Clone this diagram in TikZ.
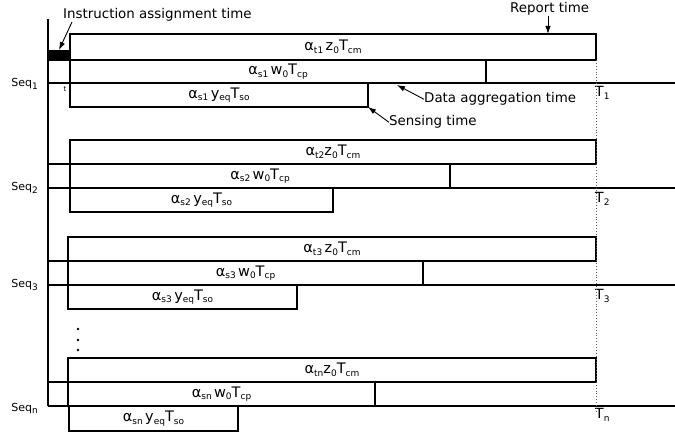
\documentclass[tikz,border=0pt]{standalone}
\usepackage{fontspec}
\setmainfont{DejaVu Sans}
\usetikzlibrary{arrows.meta}

% lowered small text for subscripts
\newcommand{\sbs}[1]{\raisebox{-2.6pt}{\fontsize{9}{9}\selectfont #1}}

\begin{document}
\begin{tikzpicture}[x=1pt,y=-1pt,
  bar/.style={draw, line width=2.2pt, inner sep=0pt, outer sep=0pt, anchor=north west,
              font=\fontsize{14.5}{15}\selectfont},
  rule/.style={line width=2.2pt},
  note/.style={inner sep=0pt, font=\fontsize{13.4}{14}\selectfont},
  seqlbl/.style={inner sep=0pt, anchor=base east, font=\fontsize{11}{12}\selectfont},
  tlbl/.style={inner sep=0pt, anchor=north west, font=\fontsize{14}{15}\selectfont},
  pointer/.style={line width=0.9pt, -{Latex[length=8pt,width=5.5pt]}},
  deadline/.style={line width=0.9pt, dotted, black!65}
]
\useasboundingbox (0,0) rectangle (675,438);

% main vertical axis
\coordinate (atop) at (48,19);
\coordinate (abot) at (48,406);
\draw[line width=2.6pt] (atop) -- (abot);

% ---------------- sequence 1 ----------------
\node[bar, minimum width=526pt, minimum height=26pt] (r1) at (70,34)
  {α\sbs{t1}\,z\sbs{0}T\sbs{cm}};
\node[bar, minimum width=416pt, minimum height=23pt] (c1) at (70,60)
  {α\sbs{s1}\,w\sbs{0}T\sbs{cp}};
\node[bar, minimum width=298pt, minimum height=24pt] (s1) at (70,83)
  {α\sbs{s1}\,y\sbs{eq}T\sbs{so}};
\coordinate (l1) at (48,60);
\coordinate (a1) at (48,83);
\coordinate (e1) at (675,83);
\draw[rule] (l1) -- (r1.south west);
\draw[rule] (a1) -- (e1);
\node[fill, inner sep=0pt, outer sep=0pt, minimum width=22pt, minimum height=10pt, anchor=north west] (ib) at (48,50) {};
\node[inner sep=0pt, font=\fontsize{7}{7}\selectfont] (tk) at (65,89) {t};
\node[seqlbl] (q1) at (38,87) {Seq\sbs{1}};
\node[tlbl] (t1) at (595,86) {T\sbs{1}};

% ---------------- sequence 2 ----------------
\node[bar, minimum width=526pt, minimum height=24pt] (r2) at (70,140)
  {α\sbs{t2}z\sbs{0}T\sbs{cm}};
\node[bar, minimum width=380pt, minimum height=24pt] (c2) at (70,164)
  {α\sbs{s2}\,w\sbs{0}T\sbs{cp}};
\node[bar, minimum width=263pt, minimum height=24pt] (s2) at (70,188)
  {α\sbs{s2}\,y\sbs{eq}T\sbs{so}};
\coordinate (l2) at (48,164);
\coordinate (a2) at (48,188);
\coordinate (e2) at (675,188);
\draw[rule] (l2) -- (r2.south west);
\draw[rule] (a2) -- (e2);
\node[seqlbl] (q2) at (38,191) {Seq\sbs{2}};
\node[tlbl] (t2) at (595,192) {T\sbs{2}};

% ---------------- sequence 3 ----------------
\node[bar, minimum width=528pt, minimum height=24pt] (r3) at (68,237)
  {α\sbs{t3}\,z\sbs{0}T\sbs{cm}};
\node[bar, minimum width=355pt, minimum height=24pt] (c3) at (68,261)
  {α\sbs{s3}\,w\sbs{0}T\sbs{cp}};
\node[bar, minimum width=229pt, minimum height=24pt] (s3) at (68,285)
  {α\sbs{s3}\,y\sbs{eq}T\sbs{so}};
\coordinate (l3) at (48,261);
\coordinate (a3) at (48,285);
\coordinate (e3) at (675,285);
\draw[rule] (l3) -- (r3.south west);
\draw[rule] (a3) -- (e3);
\node[seqlbl] (q3) at (38,288) {Seq\sbs{3}};
\node[tlbl] (t3) at (595,289) {T\sbs{3}};

% continuation dots
\foreach \yy in {329,340,350} \fill (78,\yy) circle (1.3pt);

% ---------------- sequence n ----------------
\node[bar, minimum width=528pt, minimum height=24pt] (rn) at (68,358)
  {α\sbs{tn}z\sbs{0}T\sbs{cm}};
\node[bar, minimum width=307pt, minimum height=24pt] (cn) at (68,382)
  {α\sbs{sn}\,w\sbs{0}T\sbs{cp}};
\node[bar, minimum width=169pt, minimum height=25pt] (sn) at (69,406)
  {α\sbs{sn}\,y\sbs{eq}T\sbs{so}};
\coordinate (ln) at (48,382);
\coordinate (an) at (48,406);
\coordinate (en) at (675,406);
\draw[rule] (ln) -- (rn.south west);
\draw[rule] (an) -- (en);
\node[seqlbl] (qn) at (38,411) {Seq\sbs{n}};
\node[tlbl] (tn) at (595,408) {T\sbs{n}};

% common deadline
\coordinate (dtop) at (596,60);
\coordinate (dbot) at (596,412);
\draw[deadline] (dtop) -- (dbot);

% ---------------- annotations ----------------
\node[note, anchor=base west] (ia) at (63,19) {Instruction assignment time};
\coordinate (iat) at (72,22);
\draw[pointer] (iat) -- (ib.north);

\node[note, anchor=base west] (rt) at (510,13) {Report time};
\coordinate (rth) at (548,34);
\draw[pointer] (rt.south -| rth) -- (rth);

\node[note, anchor=base west] (da) at (424,103) {Data aggregation time};
\coordinate (dah) at (397,85);
\draw[pointer] (da.west) -- (dah);

\node[note, anchor=base west] (st) at (389,126) {Sensing time};
\draw[pointer] (st.west) -- (s1.south east);
\end{tikzpicture}
\end{document}
